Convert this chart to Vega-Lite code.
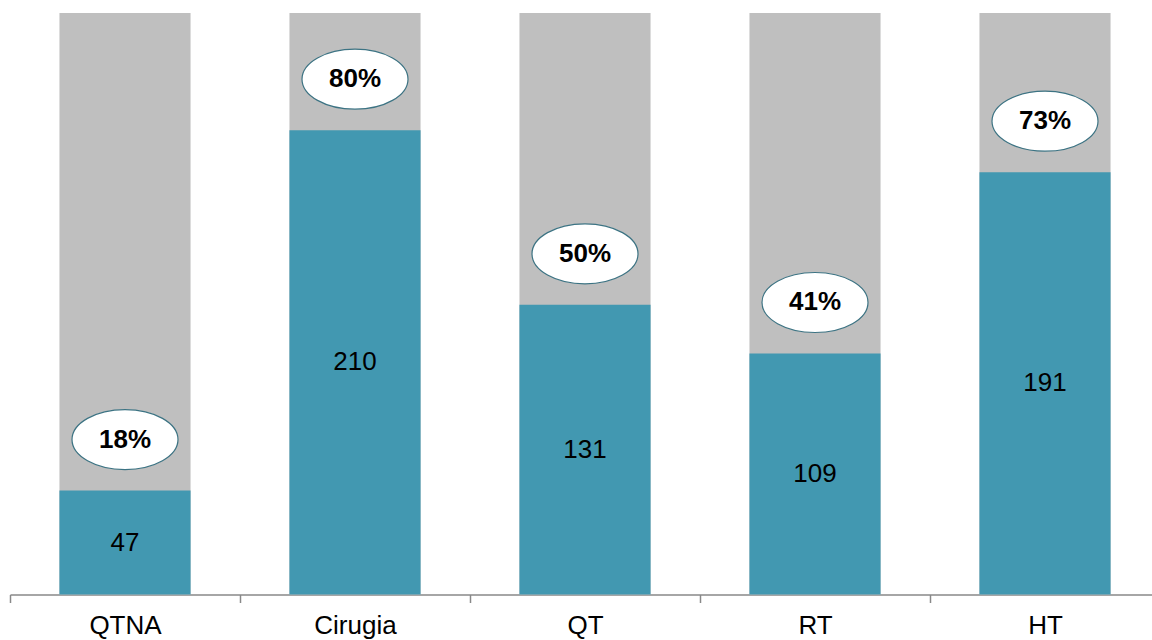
{
  "$schema": "https://vega.github.io/schema/vega-lite/v6.json",
  "width": 1150,
  "height": 581.5,
  "autosize": "none",
  "padding": {"left": 10, "top": 13, "right": 0, "bottom": 45.5},
  "background": "white",
  "config": {"view": {"stroke": null}, "font": "Liberation Sans"},
  "data": {
    "values": [
      {"cat": "QTNA", "n": 47, "total": 263, "pct": "18%"},
      {"cat": "Cirugia", "n": 210, "total": 263, "pct": "80%"},
      {"cat": "QT", "n": 131, "total": 263, "pct": "50%"},
      {"cat": "RT", "n": 109, "total": 263, "pct": "41%"},
      {"cat": "HT", "n": 191, "total": 263, "pct": "73%"}
    ]
  },
  "encoding": {
    "x": {
      "field": "cat",
      "type": "nominal",
      "sort": null,
      "scale": {"paddingInner": 0.43, "paddingOuter": 0.215},
      "axis": {
        "title": null,
        "labelAngle": 0,
        "labelFontSize": 26,
        "labelColor": "black",
        "labelFont": "Liberation Sans",
        "domainColor": "#898989",
        "domainWidth": 1.5,
        "tickColor": "#898989",
        "tickWidth": 1.5,
        "tickSize": 8,
        "tickBand": "center",
        "tickOffset": -115,
        "labelOffset": 115,
        "labelPadding": 10
      }
    }
  },
  "layer": [
    {
      "mark": {"type": "bar", "color": "#BFBFBF"},
      "encoding": {
        "y": {"field": "total", "type": "quantitative", "scale": {"domain": [0, 263], "nice": false}, "axis": null}
      }
    },
    {
      "mark": {"type": "bar", "color": "#4298B1"},
      "encoding": {
        "y": {"field": "n", "type": "quantitative", "scale": {"domain": [0, 263], "nice": false}, "axis": null}
      }
    },
    {
      "mark": {"type": "text", "fontSize": 26, "color": "black", "baseline": "middle"},
      "encoding": {
        "y": {"field": "n", "type": "quantitative", "scale": {"domain": [0, 526], "nice": false}, "axis": null},
        "text": {"field": "n", "type": "quantitative"}
      }
    },
    {
      "mark": {
        "type": "point",
        "shape": "M -1 0 A 1 0.566 0 1 1 1 0 A 1 0.566 0 1 1 -1 0 Z",
        "size": 11236,
        "filled": true,
        "fill": "white",
        "stroke": "#3C7383",
        "strokeWidth": 1.2,
        "opacity": 1,
        "yOffset": -51
      },
      "encoding": {
        "y": {"field": "n", "type": "quantitative", "scale": {"domain": [0, 263], "nice": false}, "axis": null}
      }
    },
    {
      "mark": {"type": "text", "fontSize": 26, "fontWeight": "bold", "color": "black", "baseline": "middle", "yOffset": -51},
      "encoding": {
        "y": {"field": "n", "type": "quantitative", "scale": {"domain": [0, 263], "nice": false}, "axis": null},
        "text": {"field": "pct", "type": "nominal"}
      }
    }
  ],
  "resolve": {"scale": {"y": "independent"}}
}
